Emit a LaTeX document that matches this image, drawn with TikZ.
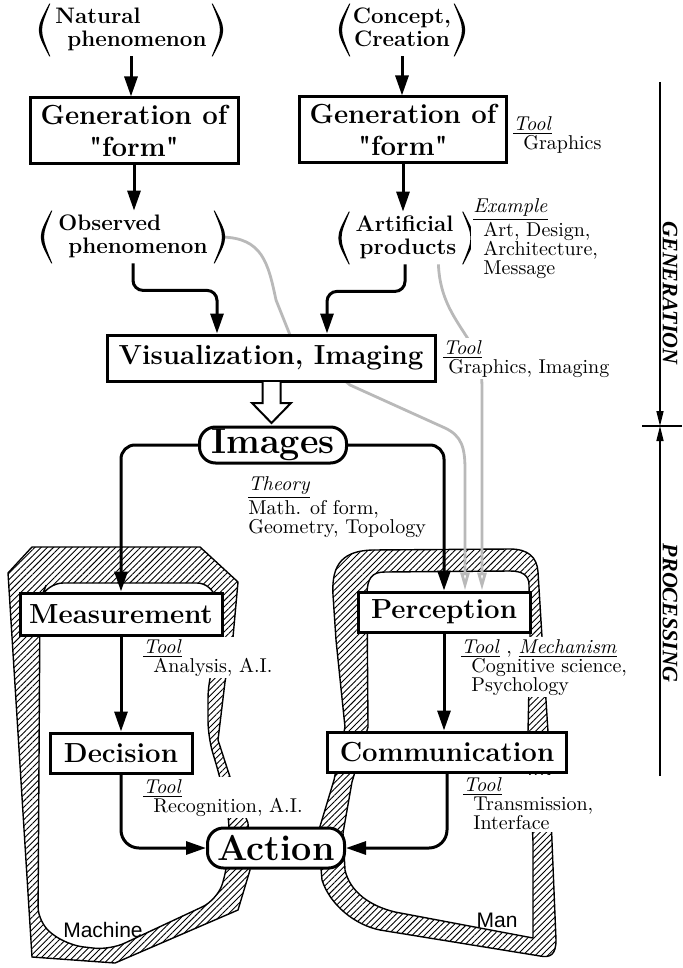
\documentclass[tikz,border=0pt]{standalone}
\usepackage{fontspec}
\usepackage{amsmath}
\usetikzlibrary{arrows.meta,patterns.meta,backgrounds,positioning}
\newfontfamily\helv{Liberation Sans}
\newfontfamily\timesf{Liberation Serif}
\newfontfamily\plainrm{Latin Modern Roman}
\newcommand\qt{{\plainrm\symbol{34}}}
\newcommand\parens[1]{%
  \fill ([xshift=3.6pt]#1.north west) .. controls ([xshift=-3.4pt]#1.west) .. ([xshift=3.6pt]#1.south west)
    -- ([xshift=4.1pt]#1.south west) .. controls ([xshift=-1.4pt]#1.west) .. ([xshift=4.1pt]#1.north west) -- cycle;
  \fill ([xshift=-3.6pt]#1.north east) .. controls ([xshift=3.4pt]#1.east) .. ([xshift=-3.6pt]#1.south east)
    -- ([xshift=-4.1pt]#1.south east) .. controls ([xshift=1.4pt]#1.east) .. ([xshift=-4.1pt]#1.north east) -- cycle;}

\begin{document}
\begin{tikzpicture}[x=0.5pt,y=-0.5pt,
  box/.style={draw,line width=1.5pt,fill=white,inner sep=0pt,align=center,
    font=\fontsize{13.8}{16}\selectfont\bfseries},
  roundbox/.style={box,rounded corners=8pt,font=\fontsize{18}{20}\selectfont\bfseries},
  paren/.style={inner sep=0pt,minimum height=26pt,font=\fontsize{11.2}{11.5}\selectfont\bfseries},
  note/.style={anchor=north west,fill=white,inner sep=1pt,align=left,
    font=\fontsize{10}{9.5}\selectfont},
  flow/.style={line width=1.5pt,-{Triangle[length=10pt,width=6.5pt]}},
  hint/.style={gray!55,line width=1.4pt,-{Triangle[open,length=9pt,width=4.5pt]}},
  band/.style={pattern={Lines[angle=45,distance=2.2pt,line width=0.45pt]},even odd rule,draw,line width=0.7pt},
  side/.style={rotate=-90,font=\timesf\bfseries\itshape\fontsize{11}{12}\selectfont},
  tip/.style={-{Triangle[length=7.5pt,width=3.5pt]}}]
\useasboundingbox (0,0) rectangle (682,968);

\node[paren,minimum width=88.5pt] (natural) at (131,30) {\begin{tabular}{@{}l@{}}Natural\\\hspace*{6pt}phenomenon\end{tabular}};
\node[box,minimum width=104pt,minimum height=33pt] (genL) at (134,131) {Generation of\\\qt form\qt};
\node[paren,minimum width=88.5pt] (observed) at (133,237) {\begin{tabular}{@{}l@{}}Observed\\\hspace*{5pt}phenomenon\end{tabular}};
\node[paren,minimum width=59.5pt] (concept) at (402,30) {\begin{tabular}{@{}c@{}}Concept,\\Creation\end{tabular}};
\node[box,minimum width=103.5pt,minimum height=33pt] (genR) at (403,130) {Generation of\\\qt form\qt};
\node[paren,minimum width=64pt] (artificial) at (406,238) {\begin{tabular}{@{}l@{}}Artificial\\\hspace*{2pt}products\end{tabular}};
\parens{natural}
\parens{observed}
\parens{concept}
\parens{artificial}
\node[box,minimum width=164pt,minimum height=23pt] (visual) at (271,358) {Visualization, Imaging};
\node[roundbox,minimum width=73.5pt,minimum height=18pt] (images) at (273,445) {Images};
\node[box,minimum width=101pt,minimum height=21pt] (measure) at (121,614) {Measurement};
\node[box,minimum width=71pt,minimum height=20pt] (decision) at (121,753) {Decision};
\node[roundbox,minimum width=68.5pt,minimum height=20pt] (action) at (276,848) {Action};
\node[box,minimum width=86pt,minimum height=20pt] (percept) at (444,612) {Perception};
\node[box,minimum width=119.5pt,minimum height=20pt] (commun) at (447,752) {Communication};

\node[note] (toolgen) at (511,114) {\underline{\textit{Tool}}\\\hspace*{5pt}Graphics};
\node[note] (example) at (471,196) {\underline{\textit{Example}}\\\hspace*{5pt}Art, Design,\\\hspace*{5pt}Architecture,\\\hspace*{5pt}Message};
\node[note] (toolvis) at (441,338) {\underline{\textit{Tool}}\\\hspace*{2.5pt}Graphics, Imaging};
\node[note] (theory) at (246,474) {\underline{\textit{Theory}}\\Math. of form,\\Geometry, Topology};
\node[note] (toolmeas) at (141,637) {\underline{\textit{Tool}}\\\hspace*{5pt}Analysis, A.I.};
\node[note] (tooldec) at (141,777) {\underline{\textit{Tool}}\\\hspace*{5pt}Recognition, A.I.};
\node[note] (toolper) at (459,637) {\underline{\textit{Tool}} , \underline{\textit{Mechanism}}\\\hspace*{5pt}Cognitive science,\\\hspace*{5pt}Psychology};
\node[note] (toolcom) at (461,775) {\underline{\textit{Tool}}\\\hspace*{5pt}Transmission,\\\hspace*{5pt}Interface};

\node[font=\helv\fontsize{10.5}{12}\selectfont] (machine) at (103,930) {Machine};
\node[font=\helv\fontsize{10.5}{12}\selectfont] (man) at (497,920) {Man};

\coordinate (gtop) at (660,82);
\coordinate (split) at (660,426);
\coordinate (pbot) at (660,776);
\draw[line width=0.7pt,tip] (gtop) -- (split);
\draw[line width=0.7pt,tip] (pbot) -- (split);
\draw[line width=0.7pt] (642,426) -- (682,426);
\node[side] (gen) at (670,293) {GENERATION};
\node[side] (proc) at (670,613) {PROCESSING};

\draw[flow] (natural.south) -- (natural.south |- genL.north);
\draw[flow] (genL.south) -- (genL.south |- observed.north);
\draw[flow] (concept.south) -- (concept.south |- genR.north);
\draw[flow] (genR.south) -- (genR.south |- artificial.north);
\draw[flow,rounded corners=5pt] (observed.south) -- ++(0,27) -| ([xshift=-27pt]visual.north);
\draw[flow,rounded corners=5pt] ([xshift=-0.5pt]artificial.south) -- ++(0,27) -| ([xshift=28pt]visual.north);
\draw[line width=1pt,fill=white] (262.5,382) -- (262.5,403) -- (252,403) -- (271.5,423) -- (291,403) -- (280.5,403) -- (280.5,382);
\draw[flow,rounded corners=7pt] (images.west) -| (measure.north);
\draw[flow,rounded corners=7pt] (images.east) -| (percept.north);
\draw[flow] (measure.south) -- (decision.north);
\draw[flow] (percept.south) -- (percept.south |- commun.north);
\draw[flow,rounded corners=9pt] (decision.south) |- (action.west);
\draw[flow,rounded corners=9pt] (commun.south) |- (action.east);

\begin{scope}[on background layer]
\path[band] (32,547) -- (200,547) -- (238,582) -- (233,637) -- (225,682) -- (218,740) -- (230,777) -- (248,823) -- (250,870) -- (238,910) -- (115,963) -- (32,957) -- (8,573) -- cycle
  [rounded corners=8pt] (47,583) -- (213,583) -- (222,637) -- (208,682) -- (208,737) -- (220,777) -- (230,823) -- (227,870) -- (217,900) -- (110,950) -- (67,945) -- (38,923) -- (40,600) -- cycle;
\path[band] (345,727) -- (336,640) -- (333,595) .. controls (331,562) and (345,551) .. (372,550) -- (510,549) .. controls (528,549) and (537,557) .. (538,572) -- (542,637) -- (548,732) -- (552,842) -- (556,940) .. controls (556,955) and (550,958) .. (540,956) -- (380,930) .. controls (355,925) and (330,905) .. (322,880) -- (318,833) -- (334,780) -- cycle
  (368,727) -- (367,595) .. controls (367,578) and (372,572) .. (385,572) -- (510,571) .. controls (522,571) and (529,575) .. (529,585) -- (530,637) -- (528,732) -- (533,842) -- (533,938) -- (395,912) .. controls (370,906) and (350,892) .. (345,870) -- (343,833) -- (352,782) -- cycle;
\draw[hint] (observed.east) .. controls (262,238) and (268,262) .. (276,300) -- (290,335) -- (350,385) -- (445,428) .. controls (462,436) and (465,448) .. (465,470) -- ([xshift=10.5pt]percept.north);
\draw[hint] ([xshift=-16pt]artificial.south east) .. controls (440,300) and (455,318) .. (470,342) .. controls (482,362) and (482,375) .. (482,395) -- ([xshift=19pt]percept.north);
\end{scope}
\end{tikzpicture}
\end{document}
